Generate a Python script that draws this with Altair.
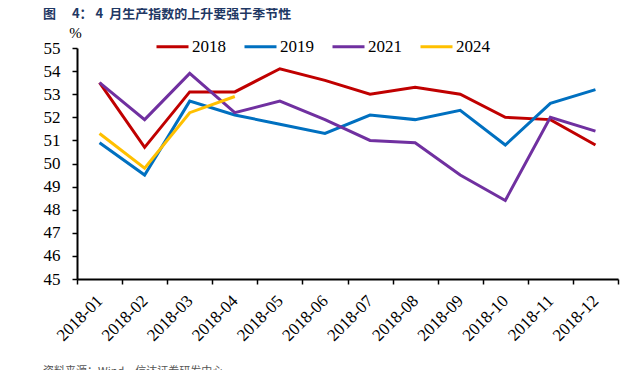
import altair as alt
import pandas as pd

months = ["2018-01", "2018-02", "2018-03", "2018-04", "2018-05", "2018-06",
          "2018-07", "2018-08", "2018-09", "2018-10", "2018-11", "2018-12"]
series_names = ["2018", "2019", "2021", "2024"]
colors = ["#C00000", "#0070C0", "#7030A0", "#FFC000"]

s2018 = [53.5, 50.7, 53.1, 53.1, 54.1, 53.6, 53.0, 53.3, 53.0, 52.0, 51.9, 50.8]
s2019 = [50.9, 49.5, 52.7, 52.1, 51.7, 51.3, 52.1, 51.9, 52.3, 50.8, 52.6, 53.2]
s2021 = [53.5, 51.9, 53.9, 52.2, 52.7, 51.9, 51.0, 50.9, 49.5, 48.4, 52.0, 51.4]
s2024 = [51.3, 49.8, 52.2, 52.9]

y_ticks = list(range(45, 56))

title_text = "图\u3000 4：\u00a04\u00a0\u00a0月生产指数的上升要强于季节性"
source_text = "资料来源：Wind，信达证券研发中心"

rows = []
for name, vals in zip(series_names, [s2018, s2019, s2021, s2024]):
    for m, v in zip(months, vals):
        rows.append({"month": m, "value": v, "series": name})
df = pd.DataFrame(rows)

serif = "Liberation Serif"

lines = alt.Chart(df).mark_line(strokeWidth=3).encode(
    x=alt.X("month:O",
            scale=alt.Scale(type="band", domain=months, paddingInner=0, paddingOuter=0),
            axis=alt.Axis(title=None, labelAngle=-45, labelAlign="right", labelBaseline="middle",
                          tickBand="extent", labelFont=serif, labelFontSize=17,
                          labelColor="black", labelPadding=14, tickSize=5, tickColor="black",
                          domainColor="black", domainWidth=2, tickWidth=1.5)),
    y=alt.Y("value:Q",
            scale=alt.Scale(domain=[45, 55], nice=False, zero=False),
            axis=alt.Axis(values=y_ticks, title="%", titleAngle=0, titleX=-2, titleY=-8,
                          titleFont=serif, titleFontSize=15, titleFontWeight="normal",
                          titleColor="black", titleAlign="center",
                          labelFont=serif, labelFontSize=17, labelColor="black",
                          labelPadding=12, tickSize=5, tickColor="black", tickWidth=1.5,
                          domainColor="black", domainWidth=2, grid=False)),
    color=alt.Color("series:N",
                    scale=alt.Scale(domain=series_names, range=colors),
                    legend=alt.Legend(title=None, orient="none", direction="horizontal",
                                      legendX=78, legendY=-19, symbolType="stroke",
                                      symbolSize=1024, symbolStrokeWidth=3,
                                      labelFont=serif, labelFontSize=17, labelColor="black",
                                      labelOffset=2, columnPadding=12, padding=0)),
)

note_df = pd.DataFrame({"t": [title_text], "s": [source_text]})

title_mark = alt.Chart(note_df).mark_text(
    align="left", baseline="top", font="Noto Sans CJK SC", fontSize=13,
    fontWeight="bold", color="#1F3864"
).encode(x=alt.value(-34), y=alt.value(-40), text="t:N")

source_mark = alt.Chart(note_df).mark_text(
    align="left", baseline="top", font="Noto Sans CJK SC", fontSize=11, color="#555555"
).encode(x=alt.value(-34), y=alt.value(318), text="s:N")

chart = alt.layer(lines, title_mark, source_mark).properties(
    width=541, height=231,
    autosize=alt.AutoSizeParams(type="none"),
    padding={"left": 69, "top": 40, "right": 12, "bottom": 100},
).configure_view(stroke=None)

chart.save("out.html", embed_options={"renderer": "svg", "actions": False})
